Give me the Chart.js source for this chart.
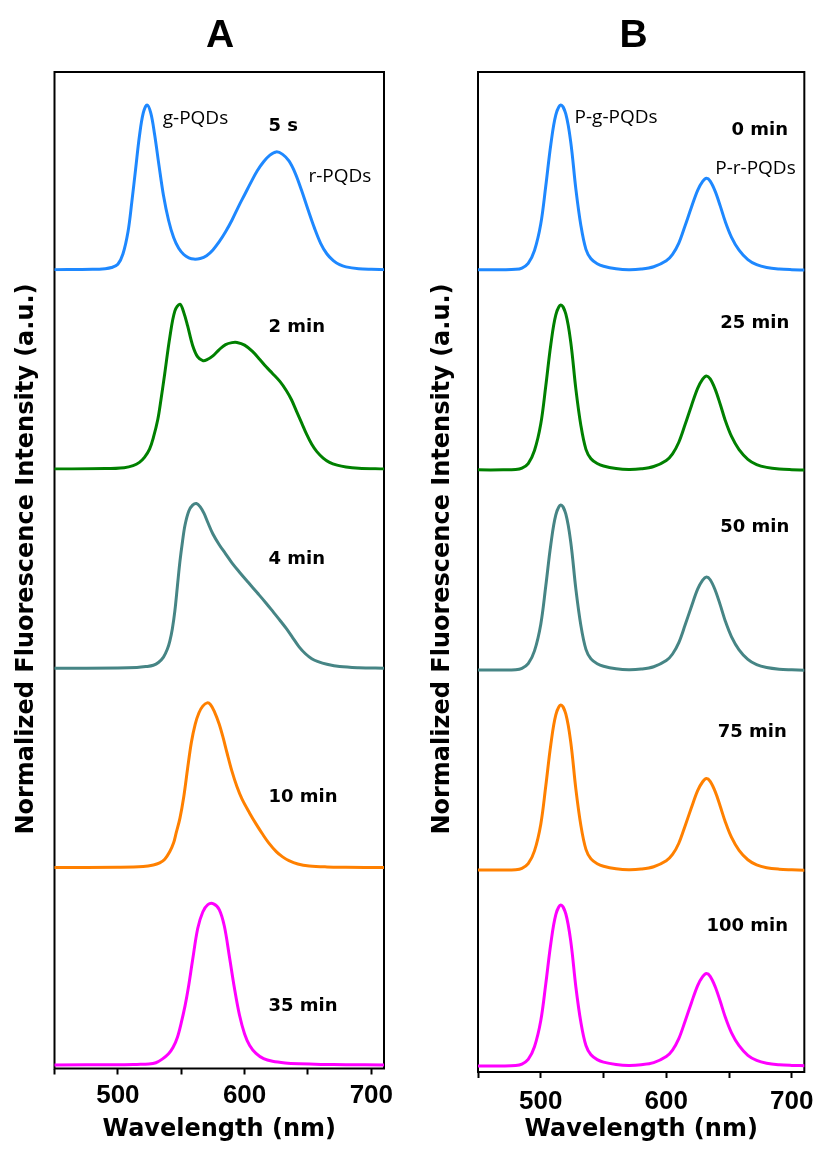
<!DOCTYPE html>
<html><head><meta charset="utf-8">
<script src="https://cdn.jsdelivr.net/npm/chart.js@4.4.1/dist/chart.umd.min.js"></script>
<style>
html,body{margin:0;padding:0;background:#fff;}
#wrap{position:relative;width:822px;height:1149px;overflow:hidden;}
canvas{position:absolute;top:0;}
#cA{left:0;} #cB{left:411px;}
</style></head><body>
<div id="wrap"><canvas id="cA" width="411" height="1149" style="width:411px;height:1149px"></canvas><canvas id="cB" width="411" height="1149" style="width:411px;height:1149px"></canvas></div>
<script>
// ---------------- DATA ----------------
const xTickValues = [450, 500, 550, 600, 650, 700];
const xTickLabels = [500, 600, 700];
const xTitle = 'Wavelength (nm)';
const yTitle = 'Normalized Fluorescence Intensity (a.u.)';

// Panel A : [wavelength (nm), normalized intensity]
const timesA = ['5 s', '2 min', '4 min', '10 min', '35 min'];
const specA_5s = [[450,0],[480,0.002],[490,0.006],[495,0.013],[500,0.033],[504,0.095],[508,0.23],[511,0.41],[514,0.61],[517,0.81],[520,0.95],[523,1.0],[526,0.95],[529,0.82],[532.5,0.63],[536,0.45],[540,0.3],[544,0.195],[548,0.13],[552,0.092],[556,0.072],[560,0.064],[565,0.068],[570,0.085],[575,0.12],[580,0.17],[585,0.23],[590,0.3],[595,0.38],[600,0.455],[605,0.53],[610,0.6],[615,0.655],[620,0.695],[625,0.715],[630,0.7],[635,0.66],[640,0.585],[645,0.48],[650,0.365],[655,0.255],[660,0.16],[665,0.095],[670,0.055],[675,0.03],[680,0.017],[690,0.006],[700,0.002],[710,0]];
const specA_2min = [[450,0],[490,0.002],[505,0.008],[512,0.02],[517,0.04],[521,0.07],[525,0.12],[528,0.19],[531.5,0.3],[534,0.42],[537,0.58],[541,0.8],[545,0.96],[549,1.0],[552,0.95],[555,0.87],[559,0.75],[563,0.68],[567,0.658],[570,0.662],[575,0.687],[580,0.725],[585,0.755],[590,0.767],[594,0.768],[600,0.752],[606,0.715],[612,0.665],[617,0.62],[622,0.58],[628,0.53],[633,0.475],[637,0.42],[641,0.35],[645,0.28],[649,0.21],[653,0.15],[657,0.105],[662,0.066],[667,0.04],[673,0.023],[680,0.012],[690,0.005],[710,0]];
const specA_4min = [[450,0],[500,0.002],[515,0.005],[522,0.01],[528,0.018],[532,0.035],[536,0.068],[539,0.115],[541,0.165],[543,0.24],[545,0.35],[547,0.5],[549,0.65],[551,0.77],[553,0.87],[556,0.955],[559,0.99],[562,1.0],[565,0.98],[568,0.94],[571,0.885],[575,0.815],[580,0.75],[585,0.695],[590,0.64],[596,0.583],[603,0.52],[610,0.458],[617,0.395],[623,0.338],[628,0.29],[633,0.24],[638,0.185],[643,0.13],[648,0.088],[653,0.058],[658,0.04],[665,0.024],[675,0.01],[690,0.003],[710,0]];
const specA_10min = [[450,0],[500,0.002],[520,0.006],[528,0.015],[533,0.028],[537,0.05],[541,0.097],[544,0.15],[546,0.21],[549,0.3],[552,0.43],[555,0.6],[558,0.76],[561,0.87],[564,0.94],[567,0.98],[570.5,1.0],[573,0.99],[576,0.95],[580,0.87],[583,0.79],[586,0.7],[590,0.585],[594,0.49],[598,0.415],[604,0.33],[609,0.265],[614,0.205],[619,0.15],[625,0.097],[630,0.065],[635,0.042],[642,0.022],[651,0.01],[665,0.004],[680,0.002],[710,0]];
const specA_35min = [[450,0.012],[500,0.013],[515,0.015],[524.5,0.017],[530,0.025],[535,0.047],[540,0.08],[543.5,0.117],[547,0.18],[550,0.267],[553,0.37],[555.5,0.475],[559,0.65],[563,0.84],[567,0.94],[571,0.985],[575.5,0.99],[580,0.955],[584,0.855],[588,0.67],[592,0.477],[596,0.313],[600,0.2],[604,0.13],[609,0.082],[615,0.05],[622,0.034],[632,0.024],[643,0.019],[660,0.015],[680,0.013],[710,0.012]];

// Panel B : shared wavelength grid (nm) and normalized intensities
const timesB = ['0 min', '25 min', '50 min', '75 min', '100 min'];
const wavelengthsB = [450,470,480,485,490,495,500,504,508,512,516,520,524,528,532,536,540,545,550,560,570,580,590,600,605,610,615,620,625,629,632,635,639,643,647,652,658,665,672,680,690,700,710];
const specB_0min   = [0.004,0.004,0.006,0.014,0.042,0.12,0.28,0.51,0.76,0.94,1.0,0.945,0.77,0.49,0.27,0.127,0.07,0.04,0.025,0.01,0.004,0.008,0.022,0.058,0.097,0.165,0.27,0.38,0.484,0.538,0.557,0.54,0.478,0.39,0.295,0.2,0.122,0.065,0.034,0.017,0.008,0.004,0.002];
const specB_25min  = [0.003,0.003,0.005,0.013,0.041,0.12,0.28,0.51,0.76,0.94,1.0,0.945,0.77,0.49,0.27,0.127,0.07,0.041,0.026,0.011,0.005,0.009,0.023,0.06,0.1,0.17,0.277,0.39,0.496,0.552,0.571,0.553,0.49,0.4,0.302,0.205,0.125,0.067,0.035,0.018,0.008,0.004,0.002];
const specB_50min  = [0.002,0.002,0.004,0.012,0.04,0.118,0.278,0.51,0.76,0.94,1.0,0.945,0.77,0.49,0.27,0.127,0.069,0.04,0.025,0.01,0.004,0.008,0.022,0.059,0.099,0.168,0.274,0.385,0.491,0.546,0.565,0.548,0.485,0.396,0.299,0.203,0.124,0.066,0.034,0.017,0.007,0.003,0.0];
const specB_75min  = [0.002,0.002,0.004,0.012,0.04,0.118,0.278,0.51,0.76,0.94,1.0,0.945,0.77,0.49,0.27,0.127,0.069,0.04,0.025,0.01,0.004,0.008,0.022,0.058,0.096,0.164,0.269,0.378,0.482,0.536,0.555,0.538,0.476,0.388,0.294,0.199,0.121,0.064,0.033,0.016,0.007,0.003,0.0];
const specB_100min = [0.026,0.026,0.029,0.038,0.066,0.143,0.3,0.523,0.766,0.942,1.0,0.946,0.776,0.503,0.289,0.15,0.094,0.065,0.05,0.036,0.03,0.034,0.047,0.084,0.123,0.192,0.297,0.408,0.513,0.567,0.586,0.569,0.506,0.418,0.323,0.227,0.149,0.091,0.06,0.043,0.034,0.03,0.028];

// ---------------- STYLE ----------------
const colors = ['#1e88ff', '#008000', '#468585', '#ff8000', '#ff00ff'];
const TICK_FONT = {family: "'Liberation Sans', Arial, sans-serif", weight: 'bold', size: 26};
const TITLE_FAMILY = "'DejaVu Sans', Verdana, sans-serif";

// annotation texts (positions in data units of each panel's sub-axis)
const annA = [
  {text: 'g-PQDs', axis: 0, x: 535.4, y: 0.884, align: 'left', bold: false},
  {text: timesA[0], axis: 0, x: 618.9, y: 0.839, align: 'left', bold: true},
  {text: 'r-PQDs', axis: 0, x: 650.4, y: 0.535, align: 'left', bold: false},
  {text: timesA[1], axis: 1, x: 618.9, y: 0.834, align: 'left', bold: true},
  {text: timesA[2], axis: 2, x: 618.9, y: 0.632, align: 'left', bold: true},
  {text: timesA[3], axis: 3, x: 618.9, y: 0.397, align: 'left', bold: true},
  {text: timesA[4], axis: 4, x: 618.9, y: 0.342, align: 'left', bold: true}
];
const annB = [
  {text: 'P-g-PQDs', axis: 0, x: 526.9, y: 0.89, align: 'left', bold: false},
  {text: timesB[0], axis: 0, x: 697.0, y: 0.819, align: 'right', bold: true},
  {text: 'P-r-PQDs', axis: 0, x: 639.0, y: 0.581, align: 'left', bold: false},
  {text: timesB[1], axis: 1, x: 698.0, y: 0.859, align: 'right', bold: true},
  {text: timesB[2], axis: 2, x: 698.0, y: 0.834, align: 'right', bold: true},
  {text: timesB[3], axis: 3, x: 696.0, y: 0.807, align: 'right', bold: true},
  {text: timesB[4], axis: 4, x: 697.0, y: 0.843, align: 'right', bold: true}
];

const decor = {
  id: 'decor',
  beforeDatasetsDraw(chart, args, o) {
    const {ctx, chartArea: a} = chart;
    ctx.save();
    ctx.strokeStyle = '#000'; ctx.lineWidth = 2;
    ctx.strokeRect(a.left, a.top, a.right - a.left, a.bottom - a.top);
    ctx.restore();
  },
  afterDraw(chart, args, o) {
    const {ctx} = chart;
    ctx.save();
    ctx.fillStyle = '#000';
    ctx.font = "bold 39px 'Liberation Sans', Arial, sans-serif";
    ctx.textAlign = 'center'; ctx.textBaseline = 'alphabetic';
    ctx.fillText(o.letter, o.letterX, 47);
    ctx.save();
    ctx.translate(o.yTitleX, o.yTitleY);
    ctx.rotate(-Math.PI / 2);
    ctx.font = "bold 24px " + TITLE_FAMILY;
    ctx.textAlign = 'center'; ctx.textBaseline = 'middle';
    ctx.fillText(yTitle, 0, 0);
    ctx.restore();
    const xs = chart.scales.x;
    for (const l of o.labels) {
      const ys = chart.scales['y' + l.axis];
      ctx.font = l.bold ? "bold 18px " + TITLE_FAMILY : "19px 'Open Sans', 'Noto Sans', sans-serif";
      ctx.textAlign = l.align; ctx.textBaseline = 'alphabetic';
      ctx.fillText(l.text, xs.getPixelForValue(l.x), ys.getPixelForValue(l.y));
    }
    ctx.restore();
  }
};

function makePanel(id, series, p) {
  const scales = {
    x: {
      type: 'linear', position: 'bottom', min: 450, max: 710,
      afterBuildTicks: s => { s.ticks = xTickValues.map(v => ({value: v})); },
      afterFit: s => { s.height = p.xAxisHeight; },
      ticks: {autoSkip: false, maxRotation: 0, padding: p.tickPad, color: '#000', font: TICK_FONT,
        callback: v => xTickLabels.includes(v) ? String(v) : ''},
      grid: {display: true, drawOnChartArea: false, drawTicks: true, tickLength: 6, tickWidth: 2, color: '#000'},
      border: {display: false},
      title: {display: true, text: xTitle, color: '#000', padding: 0,
        font: {family: TITLE_FAMILY, weight: 'bold', size: 24}}
    }
  };
  // stacked sub-axes: first defined is placed at the bottom, so define bottom -> top
  for (let i = series.length - 1; i >= 0; i--) {
    scales['y' + i] = {
      type: 'linear', position: 'left', stack: 'spectra', stackWeight: 1,
      min: -0.01, max: 1.2, offset: false,
      afterFit: sc => { sc.width = 0; },
      ticks: {display: false}, grid: {display: false, drawTicks: false}, border: {display: false}
    };
  }
  const datasets = series.map((s, i) => ({
    label: s.label, data: s.points, yAxisID: 'y' + i,
    borderColor: colors[i], borderWidth: 3, pointRadius: 0, fill: false,
    tension: 0.35, borderJoinStyle: 'round', borderCapStyle: 'round'
  }));
  return new Chart(document.getElementById(id), {
    type: 'line',
    data: {datasets},
    options: {
      responsive: false, animation: false, parsing: true,
      layout: {padding: p.padding},
      scales,
      plugins: {legend: {display: false}, tooltip: {enabled: false},
        decor: {letter: p.letter, letterX: p.letterX, yTitleX: p.yTitleX, yTitleY: 559, labels: p.labels}}
    },
    plugins: [decor]
  });
}

const toXY = pairs => pairs.map(([x, y]) => ({x, y}));
const seriesA = [specA_5s, specA_2min, specA_4min, specA_10min, specA_35min]
  .map((s, i) => ({label: timesA[i], points: toXY(s)}));
const seriesB = [specB_0min, specB_25min, specB_50min, specB_75min, specB_100min]
  .map((s, i) => ({label: timesB[i], points: s.map((v, j) => ({x: wavelengthsB[j], y: v}))}));

makePanel('cA', seriesA, {letter: 'A', letterX: 220, yTitleX: 27, labels: annA,
  xAxisHeight: 75.5, tickPad: 6, padding: {left: 54.5, right: 27, top: 72, bottom: 5}});
makePanel('cB', seriesB, {letter: 'B', letterX: 222.5, yTitleX: 32, labels: annB,
  xAxisHeight: 72, tickPad: 8, padding: {left: 67, right: 14, top: 72, bottom: 5}});
</script>
</body></html>
